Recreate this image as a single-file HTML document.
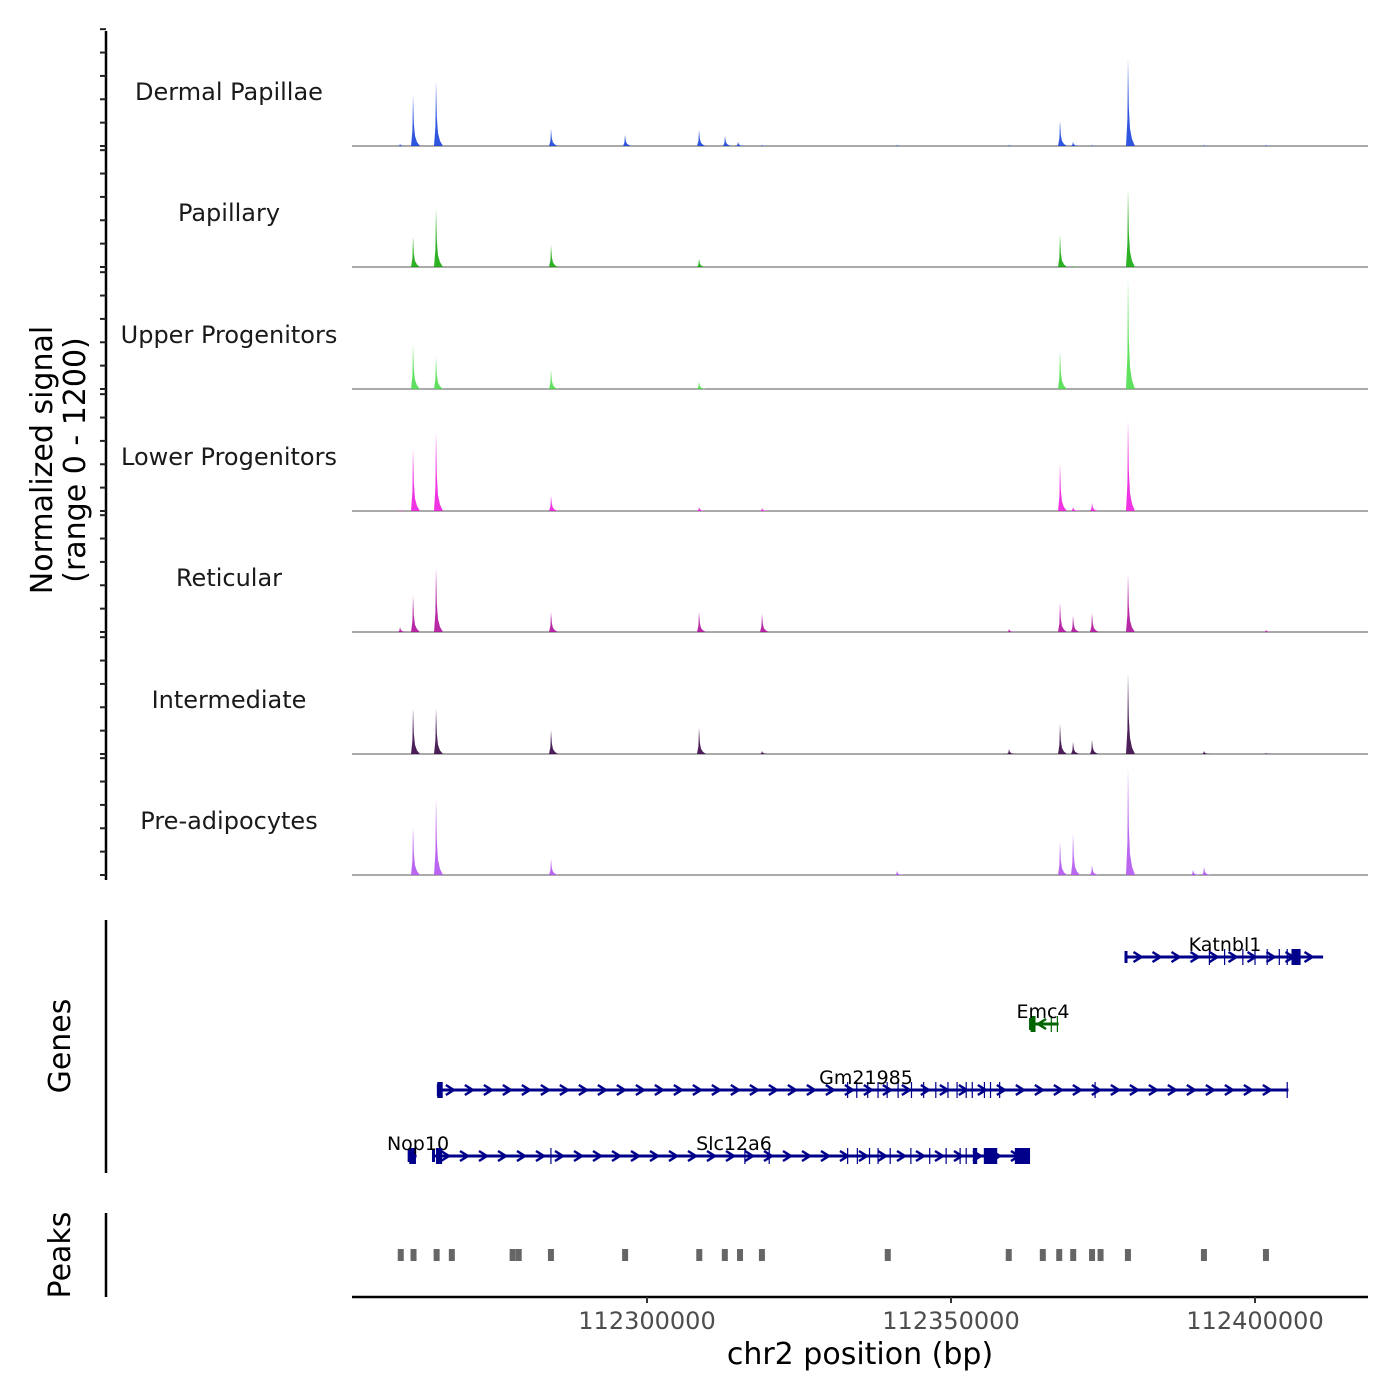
<!DOCTYPE html>
<html><head><meta charset="utf-8"><style>
body{margin:0;background:#fff}
svg{display:block;font-family:"DejaVu Sans","Liberation Sans",sans-serif}
</style></head><body>
<svg id="c" width="1400" height="1400" viewBox="0 0 1400 1400"></svg>
<script>
const trackNames=["Dermal Papillae","Papillary","Upper Progenitors","Lower Progenitors","Reticular","Intermediate","Pre-adipocytes"];
const trackColors=["#1a44dd","#18a80e","#4ede4e","#ee1ee0","#b0129c","#3a0848","#b455ee"];
const peakPos=[112259376,112261514,112265297,112284211,112296382,112308552,112312829,112314967,112318914,112341118,112359538,112367926,112370064,112373189,112379110,112389800,112391610,112401807];
const sigDP=[20,500,640,170,110,160,100,40,10,10,10,250,40,10,860,0,10,10];
const sigPap=[0,300,580,220,0,80,0,0,0,0,0,320,10,0,770,0,0,0];
const sigUP=[0,440,320,190,0,70,0,0,0,0,0,380,0,0,1100,0,0,0];
const sigLP=[10,620,780,150,0,40,0,0,30,0,0,470,40,80,900,0,0,0];
const sigRet=[50,360,630,200,0,200,0,0,180,0,30,290,160,190,570,0,0,20];
const sigInt=[0,450,450,240,0,260,0,0,30,0,50,300,120,140,800,0,30,10];
const sigPre=[0,480,760,160,0,0,0,0,0,40,0,330,410,100,1050,50,80,0];
const signals=[sigDP,sigPap,sigUP,sigLP,sigRet,sigInt,sigPre];
const peakRegions=[112259500,112261600,112265400,112267900,112277900,112278900,112284200,112296400,112308600,112312800,112315300,112318900,112339600,112359500,112365100,112367800,112370100,112373200,112374600,112379100,112391600,112401800];
const xTicks=[112300000,112350000,112400000];
const genes=[
 {name:"Katnbl1",start:112378700,end:112411200,row:0,strand:1,color:"#00008b",exons:[112392500,112395000,112398000,112400000,112402000,112404000,112405300],blocks:[[112406000,112407500]]},
 {name:"Emc4",start:112363000,end:112367700,row:1,strand:-1,color:"#006400",exons:[112363200,112363700,112366500,112367500],blocks:[[112363100,112363900]]},
 {name:"Gm21985",start:112265600,end:112405500,row:2,strand:1,color:"#00008b",exons:[112333000,112334500,112336300,112338000,112339500,112341300,112343500,112345500,112347500,112349500,112351000,112352500,112353500,112355500,112356500,112358000,112373700,112405300],blocks:[[112265500,112266400]]},
 {name:"Nop10",start:112260800,end:112262100,row:3,strand:1,color:"#00008b",exons:[],blocks:[[112260900,112262000]]},
 {name:"Slc12a6",start:112264800,end:112363000,row:3,strand:1,color:"#00008b",exons:[112284200,112316100,112320100,112333000,112334600,112336600,112338000,112340000,112343400,112346500,112349200,112351500,112352500],blocks:[[112265300,112266300],[112353600,112354300],[112355400,112357600],[112360500,112363000]]}
];
const geneRowY=[957,1024,1090,1156];
const geneLabelX={"Katnbl1":1225,"Emc4":1043,"Gm21985":866,"Nop10":418,"Slc12a6":734};

const NS="http://www.w3.org/2000/svg";
const svg=document.getElementById('c');
function el(t,a,p){const e=document.createElementNS(NS,t);for(const k in a)e.setAttribute(k,a[k]);(p||svg).appendChild(e);return e;}
const x=bp=>647+(bp-112300000)*304/50000;
const baselines=[146,267,389,511,632,754,875];
const TH=121.5;
const y=(v,i)=>baselines[i]-v*TH/1200;

const ax=el('g',{});

el('line',{x1:106,x2:106,y1:31,y2:880,stroke:'#000','stroke-width':2.5},ax);
for(let i=0;i<7;i++){for(let k=0;k<=5;k++){const yy=baselines[i]-k*TH/5.2;el('line',{x1:100,x2:106,y1:yy,y2:yy,stroke:'#222','stroke-width':2},ax);}}
const yt=el('text',{transform:'translate(52,460) rotate(-90)','text-anchor':'middle','font-size':30,fill:'#000'});

el('tspan',{x:0,dy:0},yt).textContent="Normalized signal";
el('tspan',{x:0,dy:33},yt).textContent="(range 0 - 1200)";

for(let i=0;i<7;i++){
 const g=el('g',{});
 
 
 const lab=el('text',{x:229,y:baselines[i]-46,'text-anchor':'middle','font-size':24,fill:'#1a1a1a'},g);
 lab.textContent=trackNames[i];
 
 el('line',{x1:352,x2:1368,y1:baselines[i],y2:baselines[i],stroke:'#555','stroke-width':1},g);
 const s=signals[i];
 for(let j=0;j<peakPos.length;j++){
  if(s[j]<=0)continue;
  const px=x(peakPos[j]),b=baselines[i],t=y(s[j],i),h=b-t;
  const p=el('path',{d:`M${px-2},${b} L${px-0.6},${b-h*0.3} L${px},${t} L${px+0.8},${b-h*0.45} L${px+2},${b-h*0.2} L${px+4},${b-h*0.08} L${px+7},${b} Z`,fill:trackColors[i],'fill-opacity':0.9},g);
  
 }
}

el('line',{x1:106,x2:106,y1:920,y2:1173,stroke:'#000','stroke-width':2.5});
const gt=el('text',{transform:'translate(70,1046) rotate(-90)','text-anchor':'middle','font-size':30});
gt.textContent="Genes";
genes.forEach(gn=>{
 const g=el('g',{});
 
 
 const yy=geneRowY[gn.row],x1=x(gn.start),x2=x(gn.end);
 el('line',{x1:x1,x2:x2,y1:yy,y2:yy,stroke:gn.color,'stroke-width':3},g);
 for(let ax2=x1+12;ax2<x2-4;ax2+=19){
  const d=gn.strand*4;
  el('polyline',{points:`${ax2-d},${yy-5} ${ax2+d},${yy} ${ax2-d},${yy+5}`,fill:'none',stroke:gn.color,'stroke-width':2.5},g);
 }
 gn.exons.forEach(e=>{const ex=x(e);el('rect',{x:ex-0.6,y:yy-8,width:1.2,height:16,fill:gn.color},g);});
 gn.blocks.forEach(b=>{const a=x(b[0]),c=x(b[1]);el('rect',{x:a,y:yy-8,width:Math.max(c-a,3),height:16,fill:gn.color},g);});
 el('rect',{x:x1-1,y:yy-6,width:3,height:12,fill:gn.color},g);
 const t=el('text',{x:geneLabelX[gn.name],y:yy-6,'text-anchor':'middle','font-size':19,fill:'#000'},g);
 t.textContent=gn.name;
});

el('line',{x1:106,x2:106,y1:1213,y2:1297,stroke:'#000','stroke-width':2.5});
const pt=el('text',{transform:'translate(70,1255) rotate(-90)','text-anchor':'middle','font-size':30});
pt.textContent="Peaks";
peakRegions.forEach(p=>{
 const r=el('rect',{x:x(p)-3,y:1249,width:6,height:12,fill:'#666'});
 
});

const xa=el('g',{});

el('line',{x1:352,x2:1368,y1:1297,y2:1297,stroke:'#000','stroke-width':2.5},xa);
xTicks.forEach(v=>{const xx=x(v);
 el('line',{x1:xx,x2:xx,y1:1297,y2:1303,stroke:'#333','stroke-width':2},xa);
 const t=el('text',{x:xx,y:1329,'text-anchor':'middle','font-size':24,fill:'#4d4d4d'},xa);t.textContent=v;
 });
const xt=el('text',{x:860,y:1364,'text-anchor':'middle','font-size':30,fill:'#000'});
xt.textContent="chr2 position (bp)";
</script>
</body></html>
